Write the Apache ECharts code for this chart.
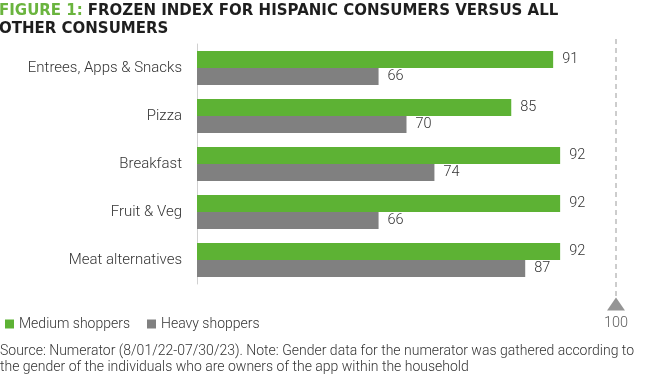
<!DOCTYPE html>
<html>
<head>
<meta charset="utf-8">
<script src="https://cdn.jsdelivr.net/npm/echarts@6/dist/echarts.min.js"></script>
<style>
html,body{margin:0;padding:0;background:#fff;}
#chart{width:650px;height:379px;}
</style>
</head>
<body>
<div id="chart"></div>
<script>
const categories = ['Entrees, Apps & Snacks', 'Pizza', 'Breakfast', 'Fruit & Veg', 'Meat alternatives'];
const mediumShoppers = [91, 85, 92, 92, 92];
const heavyShoppers = [66, 70, 74, 66, 87];
const seriesNames = ['Medium shoppers', 'Heavy shoppers'];
const referenceValue = 100;
const referenceLabel = '100';
const titleLead = 'FIGURE 1:';
const titleLine1 = 'FROZEN INDEX FOR HISPANIC CONSUMERS VERSUS ALL';
const titleLine2 = 'OTHER CONSUMERS';
const sourceText = 'Source: Numerator (8/01/22-07/30/23). Note: Gender data for the numerator was gathered according to\nthe gender of the individuals who are owners of the app within the household';

const GREEN = '#5db234';
const GREY = '#808080';
const FONT = 'Roboto';
const TITLE_FONT = 'DejaVu Sans';

const chart = echarts.init(document.getElementById('chart'), null, {renderer: 'canvas'});
const labelStyle = {show: true, position: 'right', distance: 9, fontFamily: FONT, fontWeight: 300, fontSize: 14.5, color: '#333'};

chart.setOption({
  animation: false,
  backgroundColor: '#fff',
  title: {
    left: -1, top: 2, padding: 0,
    text: '{g|' + titleLead + '} {b|' + titleLine1 + '}\n{b|' + titleLine2 + '}',
    textStyle: {
      rich: {
        g: {fontFamily: TITLE_FONT, fontWeight: 'bold', fontSize: 15, color: '#6ab43e', lineHeight: 17.5},
        b: {fontFamily: TITLE_FONT, fontWeight: 'bold', fontSize: 15, color: '#1e1e1e', lineHeight: 17.5}
      }
    }
  },
  legend: {
    left: 0, top: 312,
    itemWidth: 9, itemHeight: 9, itemGap: 17,
    icon: 'rect',
    data: seriesNames,
    textStyle: {fontFamily: FONT, fontWeight: 300, fontSize: 14, color: '#333'}
  },
  graphic: [{
    type: 'text', left: 0, top: 343,
    style: {text: sourceText, fontFamily: FONT, fontWeight: 300, fontSize: 14, lineHeight: 16.5, fill: '#333'}
  }],
  grid: [
    {left: 197, right: 34, top: 44, height: 240},
    {left: 197, right: 34, top: 38, height: 266}
  ],
  xAxis: [
    {gridIndex: 0, type: 'value', min: 40, max: 100, show: false, splitLine: {show: false}},
    {gridIndex: 1, type: 'value', min: 40, max: 100, show: false, splitLine: {show: false}}
  ],
  yAxis: [
    {
      gridIndex: 0, type: 'category', data: categories, inverse: true,
      axisLine: {show: true, lineStyle: {color: '#d0d0d0', width: 1}},
      axisTick: {show: false},
      axisLabel: {margin: 15, fontFamily: FONT, fontWeight: 300, fontSize: 15, color: '#333'}
    },
    {gridIndex: 1, type: 'value', min: 0, max: 1, show: false, splitLine: {show: false}}
  ],
  series: [
    {
      name: seriesNames[0], type: 'bar', xAxisIndex: 0, yAxisIndex: 0,
      data: mediumShoppers, barWidth: 17, barGap: '0%',
      itemStyle: {color: GREEN},
      label: labelStyle
    },
    {
      name: seriesNames[1], type: 'bar', xAxisIndex: 0, yAxisIndex: 0,
      data: heavyShoppers, barWidth: 17, barGap: '0%',
      itemStyle: {color: GREY},
      label: labelStyle
    },
    {
      type: 'line', xAxisIndex: 1, yAxisIndex: 1,
      data: [[referenceValue, 0.03], [referenceValue, 1]],
      symbol: 'none', silent: true,
      lineStyle: {color: '#9a9a9a', width: 1, type: [5, 4]}
    },
    {
      type: 'scatter', xAxisIndex: 1, yAxisIndex: 1,
      data: [[referenceValue, 0]],
      symbol: 'triangle', symbolSize: [18, 13], silent: true,
      itemStyle: {color: '#7a7a7a'},
      label: {show: true, position: 'bottom', distance: 5, formatter: referenceLabel,
        fontFamily: FONT, fontWeight: 300, fontSize: 14.5, color: '#333'}
    }
  ]
});
</script>
</body>
</html>
